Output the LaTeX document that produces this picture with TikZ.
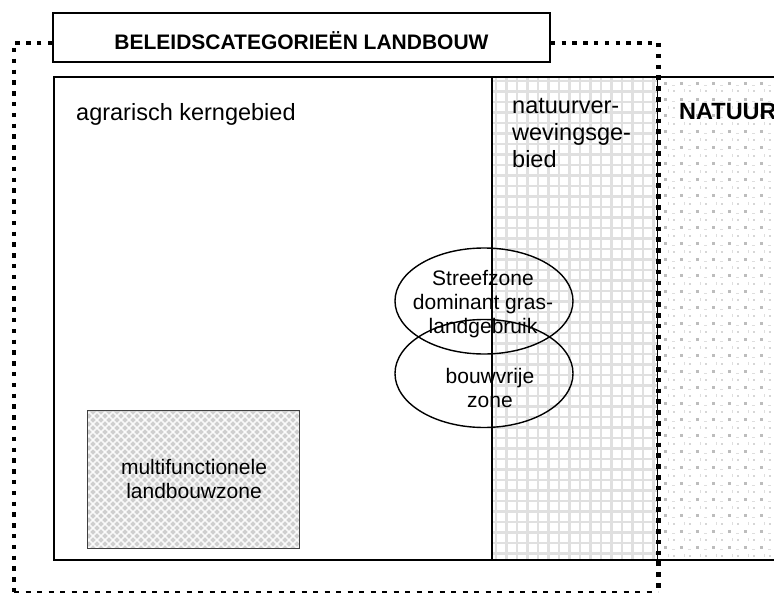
\documentclass[tikz,border=0pt]{standalone}
\usepackage{fontspec}
\setmainfont{Liberation Sans}
\usetikzlibrary{shapes.geometric}
\begin{document}
\begin{tikzpicture}[x=1pt,y=-1pt,
  txt/.style={font=\fontsize{21}{24}\selectfont, inner sep=0pt, text=black},
  areatxt/.style={font=\fontsize{23.5}{27}\selectfont, inner sep=0pt, text=black},
  boldtxt/.style={font=\bfseries\fontsize{21}{24}\selectfont, inner sep=0pt, text=black},
  framedot/.style={line width=4.3pt, dash pattern=on 4.5pt off 6.3pt, line cap=butt},
  framedash/.style={line width=2.4pt, dash pattern=on 5pt off 6.5pt},
  boxline/.style={draw=black, line width=1.8pt},
  zoneline/.style={draw=black, line width=1.4pt},
  gridline/.style={draw=black!12, line width=2.2pt},
]
\useasboundingbox (0,0) rectangle (774,594);
\clip (0,0) rectangle (774,594);

% corner points of the main area
\coordinate (mainNW) at (54,77);
\coordinate (mainSE) at (800,560);
\coordinate (splitN) at (492,77);
\coordinate (splitS) at (492,560);
\coordinate (natN) at (657,77);
\coordinate (natS) at (657,560);

% dotted texture of the nature area
\begin{scope}
  \clip (658,77) rectangle (774,560);
  \foreach \i in {0,...,8} {
    \foreach \j in {0,...,30} {
      \fill[black!26] ({664+16*\i},{82+16*\j}) rectangle ++(3,3);
      \fill[black!16] ({672.5+16*\i},{90.5+16*\j}) rectangle ++(2,2);
      \fill[black!13] ({668+16*\i},{89.5+16*\j}) rectangle ++(1,3);
      \fill[black!13] ({671.5+16*\i},{85+16*\j}) rectangle ++(3,1);
    }
  }
\end{scope}

% grid texture of the transition area
\begin{scope}
  \clip (splitN) rectangle (natS);
  \foreach \i in {0,...,16}
    \draw[gridline] ({496+10.5*\i},77) -- ++(0,483);
  \foreach \j in {0,...,46}
    \draw[gridline] (492,{81+10.5*\j}) -- ++(166,0);
\end{scope}

% main area with its divisions
\draw[boxline] (mainNW) rectangle (mainSE);
\draw[zoneline] (splitN) -- (splitS);
\draw[line width=1pt] (natN) -- (natS);

% multifunctional zone with cross-hatched fill
\node[fill=black!19, minimum width=211pt, minimum height=137pt, inner sep=0pt]
  (multi) at (193.5,479.5) {};
\begin{scope}
  \clip (multi.north west) rectangle (multi.south east);
  \foreach \k in {0,...,60} {
    \draw[white, line width=1.7pt, opacity=0.85]
      ({89+8*\k-200},412) -- ++(150,150);
    \draw[white, line width=1.7pt, opacity=0.85]
      ({89+8*\k},412) -- ++(-150,150);
  }
\end{scope}
\draw[draw=black!75, line width=1.2pt] (multi.north west) rectangle (multi.south east);
\node[txt, align=center] (multitxt) at (194,479)
  {multifunctionele\\landbouwzone};

% grassland and building-free zones
\node[draw, ellipse, line width=1.4pt, minimum width=178pt, minimum height=106pt,
      inner sep=0pt] (gras) at (484,301) {};
\node[draw, ellipse, line width=1.4pt, minimum width=178pt, minimum height=108pt,
      inner sep=0pt] (bouw) at (484,373.5) {};
\node[txt, align=center] (grastxt) at (483,304)
  {Streefzone\\dominant gras-\\landgebruik};
\node[txt, align=center] (bouwtxt) at (490,388) {bouwvrije\\zone};

% area labels
\node[areatxt, anchor=base west] (kern) at (76,120) {agrarisch kerngebied};
\node[areatxt, align=left, anchor=north west] (verweving) at (512,98)
  {natuurver-\\wevingsge-\\bied};
\node[areatxt, font=\bfseries\fontsize{23.5}{27}\selectfont, anchor=base west]
  (natuur) at (679,119) {NATUUR};

% title box and the dotted outline of the agricultural categories
\node[draw=black, line width=1.5pt, fill=white, minimum width=497pt,
      minimum height=49pt, inner sep=0pt] (title) at (301.5,37.5) {};
\node[boldtxt] (titletxt) at (301.5,41) {BELEIDSCATEGORIEËN LANDBOUW};
\coordinate (frameNW) at (14,43);
\coordinate (frameNE) at (658,43);
\coordinate (frameSW) at (14,592);
\coordinate (frameSE) at (658,592);
\draw[framedot] (title.west |- frameNW) -- (frameNW) -- (frameSW);
\draw[framedot] (title.east |- frameNE) -- (frameNE);
\draw[framedot, line width=5pt] (frameNE) -- (frameSE);
\draw[framedash] (frameSW) -- (frameSE);
\end{tikzpicture}
\end{document}
